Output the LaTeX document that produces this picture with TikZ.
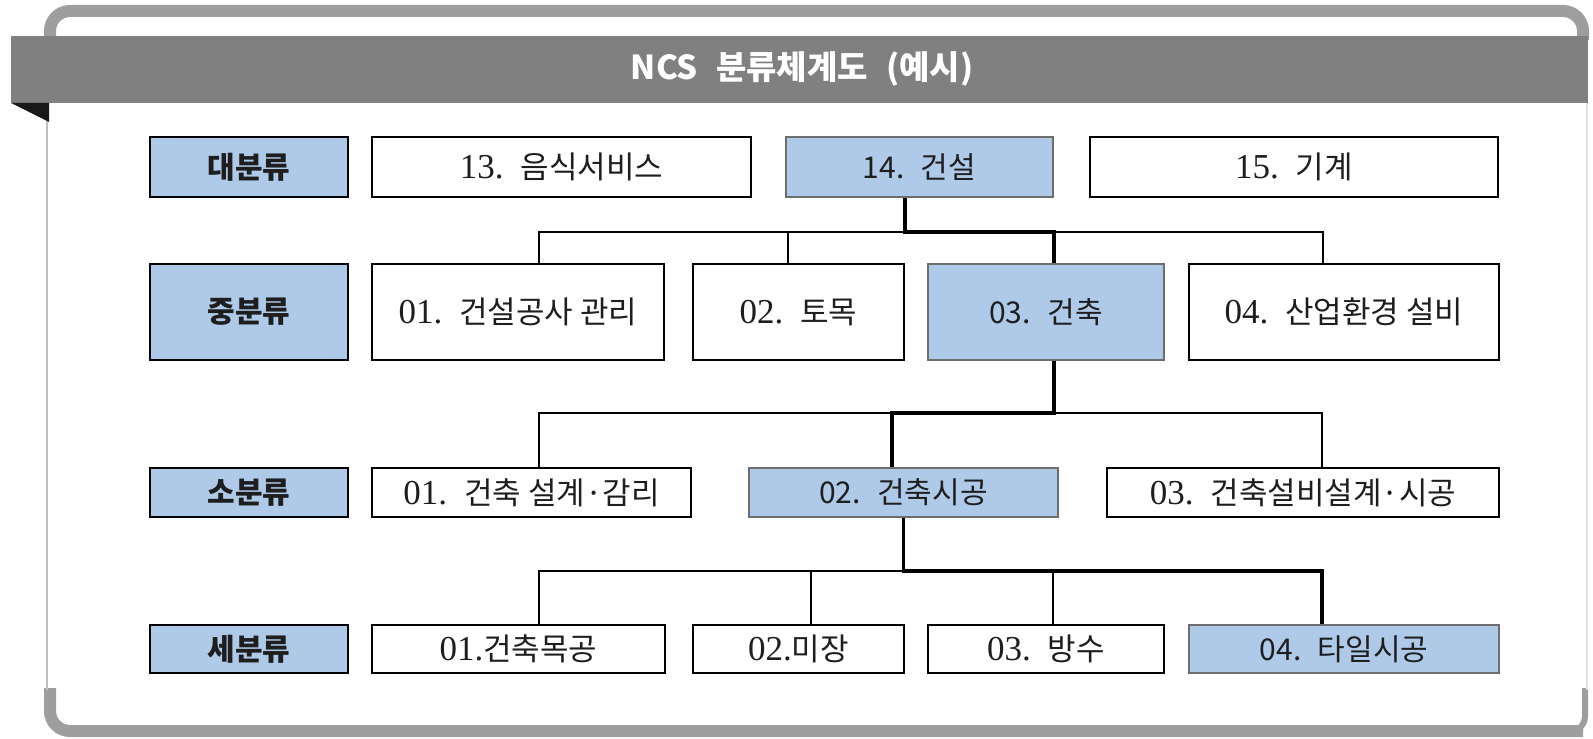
\documentclass[tikz,border=0pt]{standalone}
\usepackage{fontspec}
\setmainfont{Liberation Serif}
\newfontfamily\kr{Noto Sans CJK KR}
\newfontfamily\dig{Liberation Serif}
\definecolor{hlblue}{RGB}{174,202,232}
\definecolor{hdr}{RGB}{128,128,128}
\definecolor{frm}{RGB}{158,158,158}
\definecolor{hlbd}{RGB}{110,110,110}
\definecolor{txt}{RGB}{30,30,30}
\newcommand\gap{\hspace{0.55em}}
\newcommand\dg[1]{{\dig\fontsize{17.5}{18}\selectfont #1}}
\begin{document}
\begin{tikzpicture}[x=0.5pt,y=-0.5pt,
  lbl/.style={draw=black,line width=0.7pt,fill=hlblue,minimum width=99pt,inner sep=0pt,text=txt,font=\kr\bfseries\fontsize{15}{18}\selectfont},
  hl/.style={draw=hlbd,line width=1.3pt,fill=hlblue,inner sep=0pt,text=txt,font=\kr\fontsize{15}{18}\selectfont},
  pl/.style={draw=black,line width=0.7pt,fill=white,inner sep=0pt,text=txt,font=\kr\fontsize{15.5}{18}\selectfont},
  thin/.style={line width=0.6pt,black},
  trunk/.style={line width=1.6pt,black},
  r1/.style={minimum height=30pt},
  r2/.style={minimum height=48pt},
  r3/.style={minimum height=24.5pt},
  r4/.style={minimum height=24pt}]
\useasboundingbox (0,0) rectangle (1593,738);
% frame
\draw[frm,line width=6pt,rounded corners=10pt] (50,40) -- (50,11) -- (1583,11) -- (1583,40);
\draw[frm,line width=6pt,rounded corners=10pt] (50,688) -- (50,731) -- (1583,731);
\draw[frm,line width=3pt,rounded corners=8pt] (1560,732) -- (1585,732) -- (1585,688);
\draw[black!25,line width=1pt] (47,103) -- (47,690);
\draw[black!12,line width=1pt] (1587,103) -- (1587,690);
% header
\fill[hdr] (11,36) rectangle (1588,103);
\fill[black!90] (11,103) -- (49,103) -- (49,122) -- cycle;
\node[text=white,font=\kr\bfseries\fontsize{16.5}{19}\selectfont] (title) at (802,69) {NCS\gap 분류체계도\gap (예시)};
% labels
\node[lbl,r1] (L1) at (249,167) {대분류};
\node[lbl,r2] (L2) at (249,312) {중분류};
\node[lbl,r3] (L3) at (249,492.5) {소분류};
\node[lbl,r4] (L4) at (249,649) {세분류};
% row 1
\node[pl,r1,minimum width=189.5pt] (a13) at (561.5,167) {\dg{13.}\gap 음식서비스};
\node[hl,r1,minimum width=133.5pt] (c14) at (919.5,167) {14.\gap 건설};
\node[pl,r1,minimum width=204pt] (a15) at (1294,167) {\dg{15.}\gap 기계};
% row 2
\node[pl,r2,minimum width=146pt] (m01) at (518,312) {\dg{01.}\gap 건설공사 관리};
\node[pl,r2,minimum width=105.5pt] (m02) at (798.5,312) {\dg{02.}\gap 토목};
\node[hl,r2,minimum width=118pt] (m03) at (1046,312) {03.\gap 건축};
\node[pl,r2,minimum width=155pt] (m04) at (1344,312) {\dg{04.}\gap 산업환경 설비};
% row 3
\node[pl,r3,minimum width=159.5pt] (s01) at (531.5,492.5) {\dg{01.}\gap 건축 설계·감리};
\node[hl,r3,minimum width=154.5pt] (s02) at (903.5,492.5) {02.\gap 건축시공};
\node[pl,r3,minimum width=196pt] (s03) at (1303,492.5) {\dg{03.}\gap 건축설비설계·시공};
% row 4
\node[pl,r4,minimum width=146.5pt] (d01) at (518.5,649) {\dg{01.}건축목공};
\node[pl,r4,minimum width=105.5pt] (d02) at (798.5,649) {\dg{02.}미장};
\node[pl,r4,minimum width=118pt] (d03) at (1046,649) {\dg{03.}\gap 방수};
\node[hl,r4,minimum width=155pt] (d04) at (1344,649) {04.\gap 타일시공};
% connectors
\coordinate (b1) at (0,232);
\coordinate (b2) at (0,413);
\coordinate (b3) at (0,571);
\draw[thin] ([xshift=10.5pt]m01.north) |- ([xshift=-10.5pt]m04.north |- b1) -- ([xshift=-10.5pt]m04.north);
\draw[thin] ([xshift=-5.25pt]m02.north) -- ([xshift=-5.25pt]m02.north |- b1);
\draw[trunk] ([xshift=-7.25pt]c14.south) |- ([xshift=4pt]m03.north |- b1) -- ([xshift=4pt]m03.north);
\draw[thin] ([xshift=3.75pt]s01.north) |- ([xshift=9.5pt]s03.north |- b2) -- ([xshift=9.5pt]s03.north);
\draw[trunk] ([xshift=4pt]m03.south) |- ([xshift=-5.75pt]s02.north |- b2) -- ([xshift=-5.75pt]s02.north);
\draw[thin] ([xshift=10.25pt]d01.north) |- (s02.south |- b3);
\draw[thin] ([xshift=6.25pt]d02.north) -- ([xshift=6.25pt]d02.north |- b3);
\draw[thin] ([xshift=3.5pt]d03.north) -- ([xshift=3.5pt]d03.north |- b3);
\draw[trunk] (s02.south) |- ([xshift=-11pt]d04.north |- b3) -- ([xshift=-11pt]d04.north);
\end{tikzpicture}
\end{document}
